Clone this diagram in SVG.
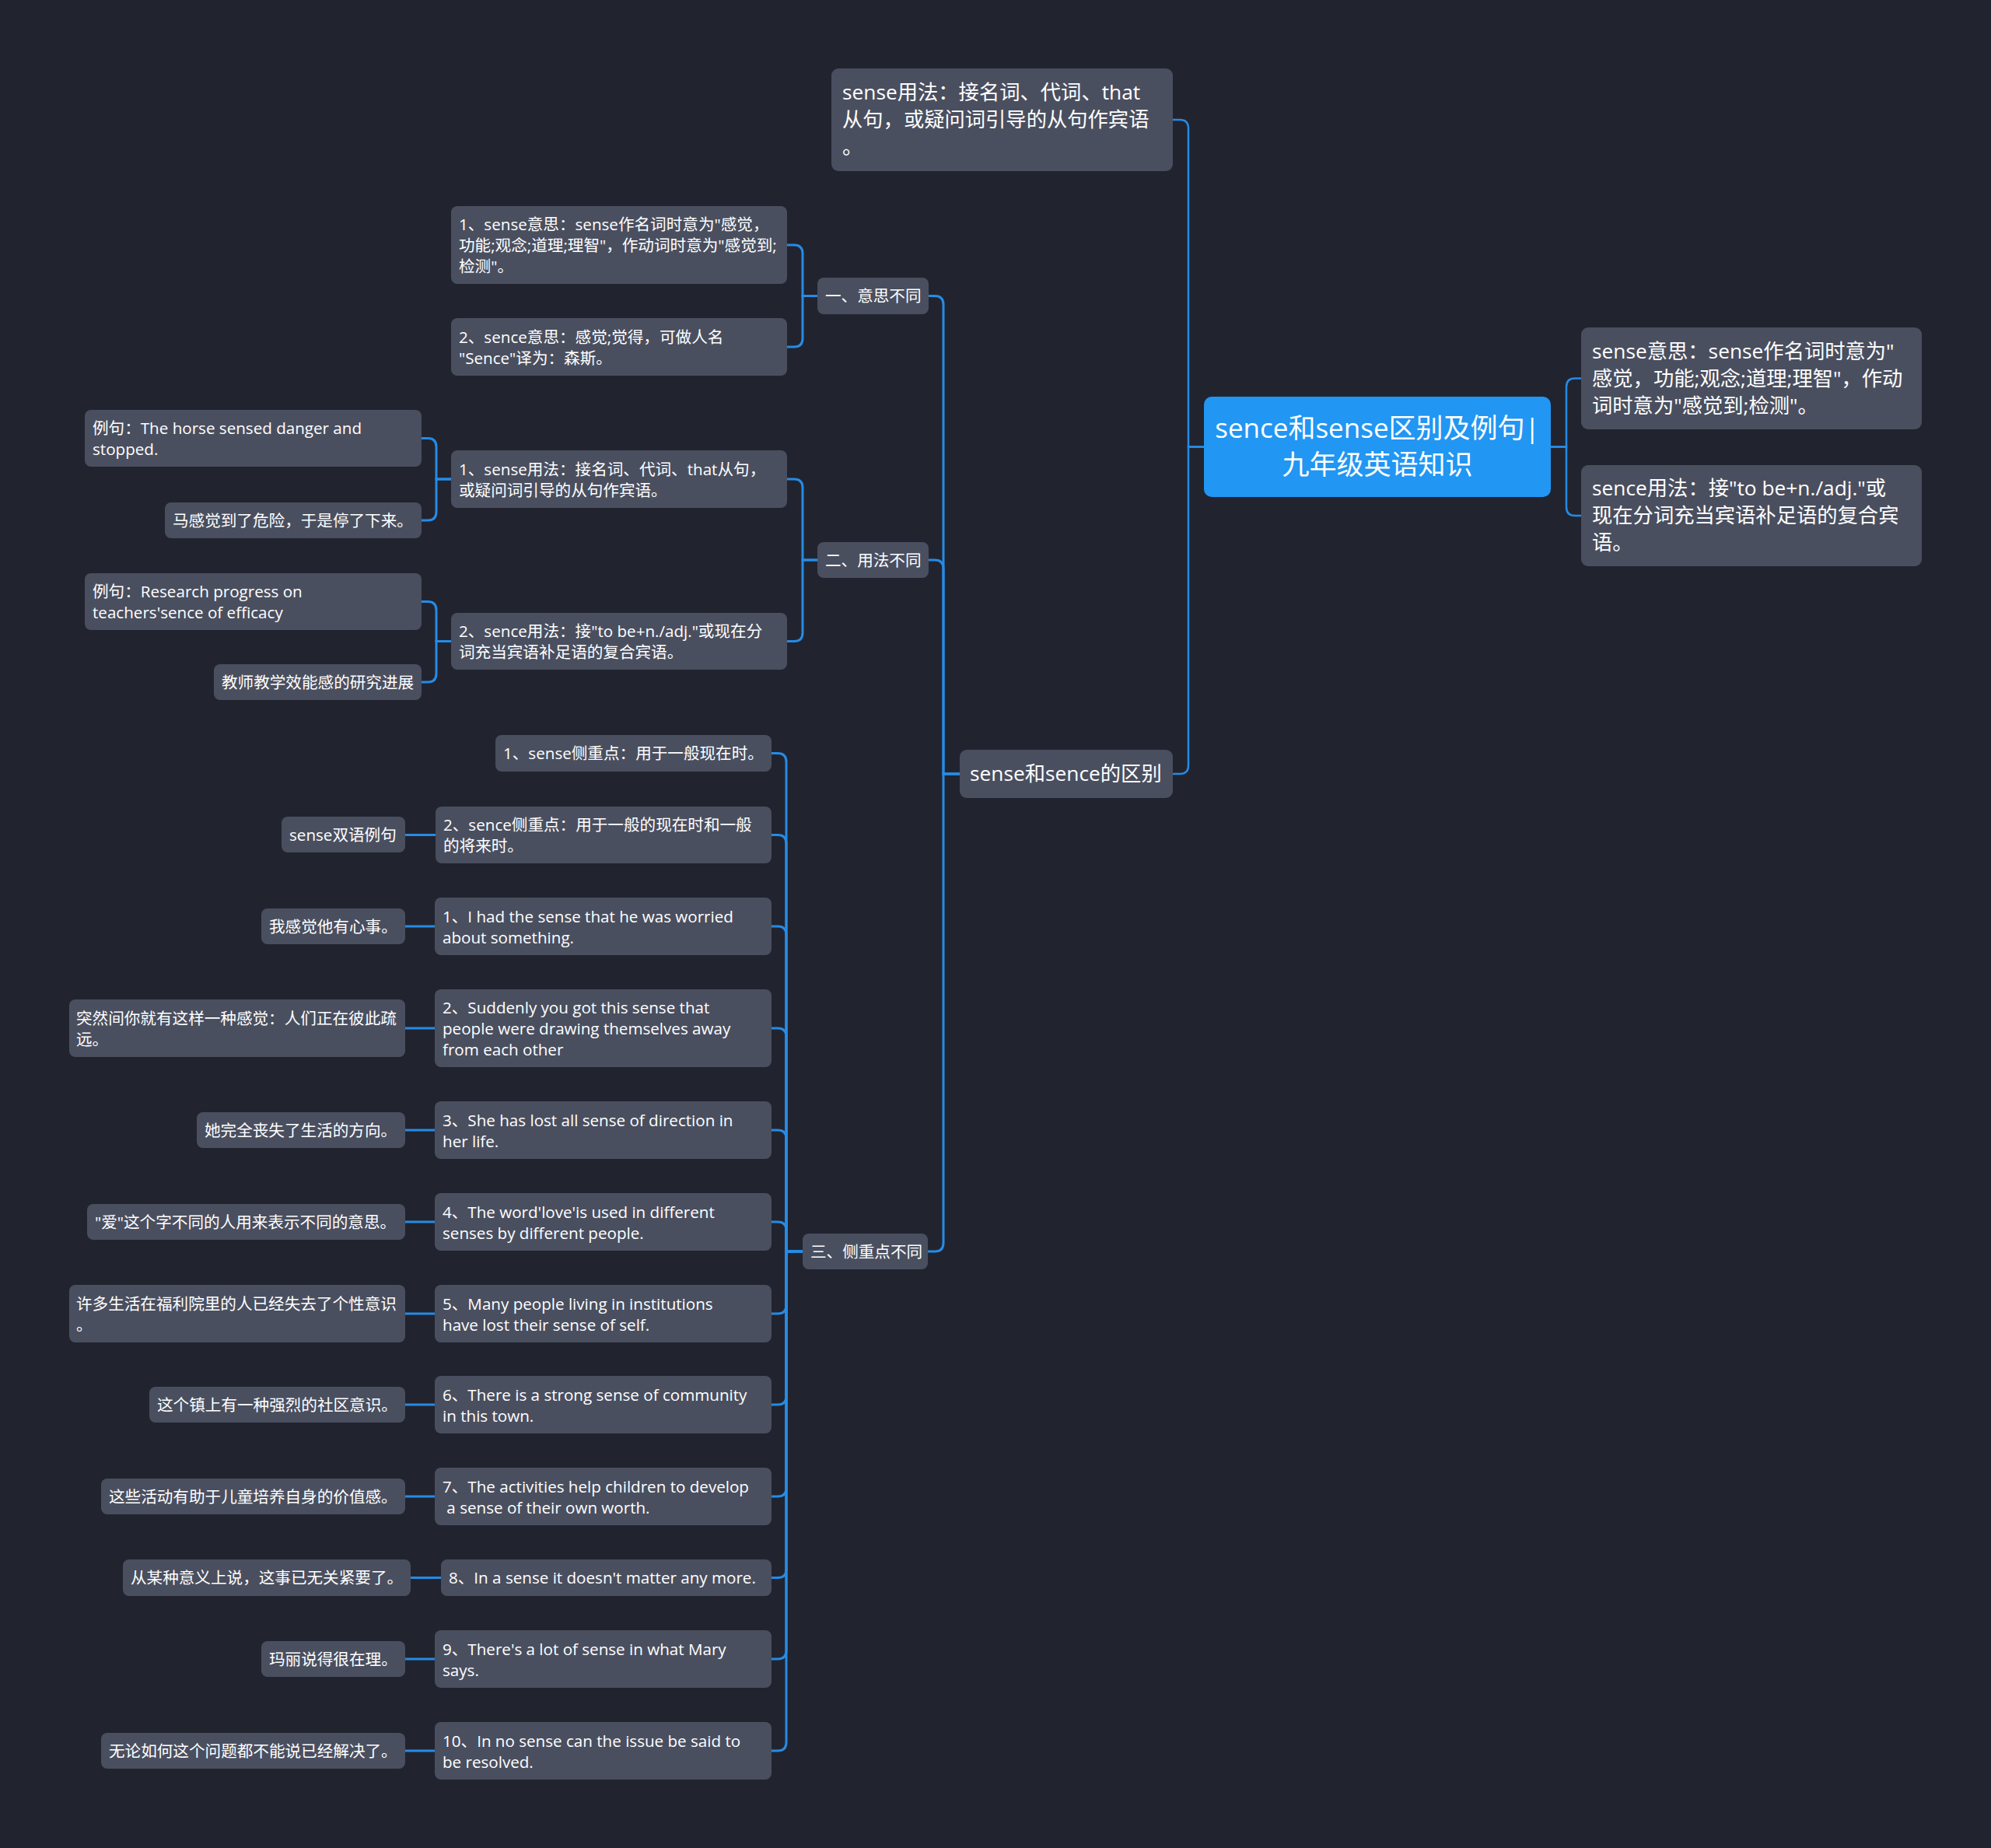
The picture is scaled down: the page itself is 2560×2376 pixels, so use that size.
<svg xmlns="http://www.w3.org/2000/svg" width="2560" height="2376" viewBox="0 0 2560 2376">
<style>
.bg{fill:#21242f}
.n{fill:#4a4f5f}
.r{fill:#2196f3}
.t{font-family:'Open Sans','Noto Sans CJK SC',sans-serif;fill:#ffffff;font-size:20.6px}
.t1{font-size:26.3px}
.tr{font-size:35px;text-anchor:middle}
.c{fill:none;stroke:#268be6;stroke-width:3;stroke-linecap:round}
.c0{stroke-width:2.5}
</style>
<rect class="bg" x="0" y="0" width="2560" height="2376"/>
<g id="connectors">
<path class="c c0" d="M1548 574.5 H1528 V165 Q1528 154 1517 154 H1508"/>
<path class="c c0" d="M1548 574.5 H1528 V984 Q1528 995 1517 995 H1508"/>
<path class="c c0" d="M1994 574.5 H2014 V497.5 Q2014 486.5 2025 486.5 H2033"/>
<path class="c c0" d="M1994 574.5 H2014 V652 Q2014 663 2025 663 H2033"/>
<path class="c" d="M1234 995 H1213 V391.5 Q1213 380.5 1202 380.5 H1194"/>
<path class="c" d="M1234 995 H1213 V731 Q1213 720 1202 720 H1194"/>
<path class="c" d="M1234 995 H1213 V1598 Q1213 1609 1202 1609 H1193"/>
<path class="c" d="M1051 380.5 H1032 V326 Q1032 315 1021 315 H1012"/>
<path class="c" d="M1051 380.5 H1032 V435 Q1032 446 1021 446 H1012"/>
<path class="c" d="M1051 720 H1032 V627 Q1032 616 1021 616 H1012"/>
<path class="c" d="M1051 720 H1032 V813.5 Q1032 824.5 1021 824.5 H1012"/>
<path class="c" d="M580 616 H561 V574.5 Q561 563.5 550 563.5 H542"/>
<path class="c" d="M580 616 H561 V658 Q561 669 550 669 H542"/>
<path class="c" d="M580 824.5 H561 V784.5 Q561 773.5 550 773.5 H542"/>
<path class="c" d="M580 824.5 H561 V866 Q561 877 550 877 H542"/>
<path class="c" d="M1032 1609 H1011 V979.5 Q1011 968.5 1000 968.5 H992"/>
<path class="c" d="M1032 1609 H1011 V1084.5 Q1011 1073.5 1000 1073.5 H992"/>
<path class="c" d="M1032 1609 H1011 V1202 Q1011 1191 1000 1191 H992"/>
<path class="c" d="M1032 1609 H1011 V1333 Q1011 1322 1000 1322 H992"/>
<path class="c" d="M1032 1609 H1011 V1464 Q1011 1453 1000 1453 H992"/>
<path class="c" d="M1032 1609 H1011 V1582 Q1011 1571 1000 1571 H992"/>
<path class="c" d="M1032 1609 H1011 V1678 Q1011 1689 1000 1689 H992"/>
<path class="c" d="M1032 1609 H1011 V1795 Q1011 1806 1000 1806 H992"/>
<path class="c" d="M1032 1609 H1011 V1913 Q1011 1924 1000 1924 H992"/>
<path class="c" d="M1032 1609 H1011 V2017.5 Q1011 2028.5 1000 2028.5 H992"/>
<path class="c" d="M1032 1609 H1011 V2122 Q1011 2133 1000 2133 H992"/>
<path class="c" d="M1032 1609 H1011 V2240 Q1011 2251 1000 2251 H992"/>
<path class="c" d="M560 1073.5 H521"/>
<path class="c" d="M559 1191 H521"/>
<path class="c" d="M559 1322 H521"/>
<path class="c" d="M559 1453 H521"/>
<path class="c" d="M559 1571 H521"/>
<path class="c" d="M559 1689 H521"/>
<path class="c" d="M559 1806 H521"/>
<path class="c" d="M559 1924 H521"/>
<path class="c" d="M567 2028.5 H528"/>
<path class="c" d="M559 2133 H521"/>
<path class="c" d="M559 2251 H521"/>
</g>

<g id="root">
<rect class="r" x="1548" y="510" width="446" height="129" rx="10"/>
<text class="t tr" x="1771" y="563">sence和sense区别及例句|</text>
<text class="t tr" x="1771" y="610">九年级英语知识</text>
</g>

<g id="n-top">
<rect class="n" x="1069" y="88" width="439" height="132" rx="9"/>
<text class="t t1" x="1083" y="128">sense用法：接名词、代词、that</text>
<text class="t t1" x="1083" y="163">从句，或疑问词引导的从句作宾语</text>
<text class="t t1" x="1083" y="198">。</text>
</g>

<g id="n-r1">
<rect class="n" x="2033" y="421" width="438" height="131" rx="9"/>
<text class="t t1" x="2047" y="460.5">sense意思：sense作名词时意为"</text>
<text class="t t1" x="2047" y="495.5">感觉，功能;观念;道理;理智"，作动</text>
<text class="t t1" x="2047" y="530.5">词时意为"感觉到;检测"。</text>
</g>

<g id="n-r2">
<rect class="n" x="2033" y="598" width="438" height="130" rx="9"/>
<text class="t t1" x="2047" y="637">sence用法：接"to be+n./adj."或</text>
<text class="t t1" x="2047" y="672">现在分词充当宾语补足语的复合宾</text>
<text class="t t1" x="2047" y="707">语。</text>
</g>

<g id="n-diff">
<rect class="n" x="1234" y="964" width="274" height="62" rx="9"/>
<text class="t t1" x="1247" y="1004">sense和sence的区别</text>
</g>

<g id="n-1">
<rect class="n" x="1051" y="357" width="143" height="47" rx="8"/>
<text class="t" x="1061" y="388">一、意思不同</text>
</g>
<g id="n-2">
<rect class="n" x="1051" y="697" width="143" height="46" rx="8"/>
<text class="t" x="1061" y="727.5">二、用法不同</text>
</g>
<g id="n-3">
<rect class="n" x="1032" y="1586" width="161" height="46" rx="8"/>
<text class="t" x="1042" y="1616.5">三、侧重点不同</text>
</g>

<g id="n-1-1">
<rect class="n" x="580" y="265" width="432" height="100" rx="8"/>
<text class="t" x="590" y="296">1、sense意思：sense作名词时意为"感觉，</text>
<text class="t" x="590" y="323">功能;观念;道理;理智"，作动词时意为"感觉到;</text>
<text class="t" x="590" y="350">检测"。</text>
</g>
<g id="n-1-2">
<rect class="n" x="580" y="409" width="432" height="74" rx="8"/>
<text class="t" x="590" y="440.5">2、sence意思：感觉;觉得，可做人名</text>
<text class="t" x="590" y="467.5">"Sence"译为：森斯。</text>
</g>

<g id="n-2-1">
<rect class="n" x="580" y="579" width="432" height="74" rx="8"/>
<text class="t" x="590" y="610.5">1、sense用法：接名词、代词、that从句，</text>
<text class="t" x="590" y="637.5">或疑问词引导的从句作宾语。</text>
</g>
<g id="n-2-2">
<rect class="n" x="580" y="788" width="432" height="73" rx="8"/>
<text class="t" x="590" y="819">2、sence用法：接"to be+n./adj."或现在分</text>
<text class="t" x="590" y="846">词充当宾语补足语的复合宾语。</text>
</g>

<g id="n-2-1-a">
<rect class="n" x="109" y="527" width="433" height="73" rx="8"/>
<text class="t" x="119" y="558">例句：The horse sensed danger and</text>
<text class="t" x="119" y="585">stopped.</text>
</g>
<g id="n-2-1-b">
<rect class="n" x="212" y="646" width="330" height="46" rx="8"/>
<text class="t" x="222" y="676.5">马感觉到了危险，于是停了下来。</text>
</g>
<g id="n-2-2-a">
<rect class="n" x="109" y="737" width="433" height="73" rx="8"/>
<text class="t" x="119" y="768">例句：Research progress on</text>
<text class="t" x="119" y="795">teachers'sence of efficacy</text>
</g>
<g id="n-2-2-b">
<rect class="n" x="275" y="854" width="267" height="46" rx="8"/>
<text class="t" x="285" y="884.5">教师教学效能感的研究进展</text>
</g>

<g id="n-3-1">
<rect class="n" x="637" y="945" width="355" height="47" rx="8"/>
<text class="t" x="647" y="976">1、sense侧重点：用于一般现在时。</text>
</g>
<g id="n-3-2">
<rect class="n" x="560" y="1037" width="432" height="73" rx="8"/>
<text class="t" x="570" y="1068">2、sence侧重点：用于一般的现在时和一般</text>
<text class="t" x="570" y="1095">的将来时。</text>
</g>
<g id="n-3-2-a">
<rect class="n" x="362" y="1050" width="159" height="46" rx="8"/>
<text class="t" x="372" y="1080.5">sense双语例句</text>
</g>

<g id="n-3-3">
<rect class="n" x="559" y="1154" width="433" height="74" rx="8"/>
<text class="t" x="569" y="1185.5">1、I had the sense that he was worried</text>
<text class="t" x="569" y="1212.5">about something.</text>
</g>
<g id="n-3-3-a">
<rect class="n" x="336" y="1168" width="185" height="46" rx="8"/>
<text class="t" x="346" y="1198.5">我感觉他有心事。</text>
</g>

<g id="n-3-4">
<rect class="n" x="559" y="1272" width="433" height="100" rx="8"/>
<text class="t" x="569" y="1303">2、Suddenly you got this sense that</text>
<text class="t" x="569" y="1330">people were drawing themselves away</text>
<text class="t" x="569" y="1357">from each other</text>
</g>
<g id="n-3-4-a">
<rect class="n" x="89" y="1285" width="432" height="74" rx="8"/>
<text class="t" x="98" y="1316.5">突然间你就有这样一种感觉：人们正在彼此疏</text>
<text class="t" x="98" y="1343.5">远。</text>
</g>

<g id="n-3-5">
<rect class="n" x="559" y="1416" width="433" height="74" rx="8"/>
<text class="t" x="569" y="1447.5">3、She has lost all sense of direction in</text>
<text class="t" x="569" y="1474.5">her life.</text>
</g>
<g id="n-3-5-a">
<rect class="n" x="253" y="1430" width="268" height="46" rx="8"/>
<text class="t" x="263" y="1460.5">她完全丧失了生活的方向。</text>
</g>

<g id="n-3-6">
<rect class="n" x="559" y="1534" width="433" height="74" rx="8"/>
<text class="t" x="569" y="1565.5">4、The word'love'is used in different</text>
<text class="t" x="569" y="1592.5">senses by different people.</text>
</g>
<g id="n-3-6-a">
<rect class="n" x="112" y="1548" width="409" height="46" rx="8"/>
<text class="t" x="122" y="1578.5">"爱"这个字不同的人用来表示不同的意思。</text>
</g>

<g id="n-3-7">
<rect class="n" x="559" y="1652" width="433" height="74" rx="8"/>
<text class="t" x="569" y="1683.5">5、Many people living in institutions</text>
<text class="t" x="569" y="1710.5">have lost their sense of self.</text>
</g>
<g id="n-3-7-a">
<rect class="n" x="89" y="1652" width="432" height="74" rx="8"/>
<text class="t" x="98" y="1683.5">许多生活在福利院里的人已经失去了个性意识</text>
<text class="t" x="98" y="1710.5">。</text>
</g>

<g id="n-3-8">
<rect class="n" x="559" y="1769" width="433" height="74" rx="8"/>
<text class="t" x="569" y="1800.5">6、There is a strong sense of community</text>
<text class="t" x="569" y="1827.5">in this town.</text>
</g>
<g id="n-3-8-a">
<rect class="n" x="192" y="1783" width="329" height="46" rx="8"/>
<text class="t" x="202" y="1813.5">这个镇上有一种强烈的社区意识。</text>
</g>

<g id="n-3-9">
<rect class="n" x="559" y="1887" width="433" height="74" rx="8"/>
<text class="t" x="569" y="1918.5">7、The activities help children to develop</text>
<text class="t" x="569" y="1945.5" xml:space="preserve" style="white-space:pre"> a sense of their own worth.</text>
</g>
<g id="n-3-9-a">
<rect class="n" x="130" y="1901" width="391" height="46" rx="8"/>
<text class="t" x="140" y="1931.5">这些活动有助于儿童培养自身的价值感。</text>
</g>

<g id="n-3-10">
<rect class="n" x="567" y="2005" width="425" height="47" rx="8"/>
<text class="t" x="577" y="2036">8、In a sense it doesn't matter any more.</text>
</g>
<g id="n-3-10-a">
<rect class="n" x="158" y="2005" width="370" height="47" rx="8"/>
<text class="t" x="168" y="2036">从某种意义上说，这事已无关紧要了。</text>
</g>

<g id="n-3-11">
<rect class="n" x="559" y="2096" width="433" height="74" rx="8"/>
<text class="t" x="569" y="2127.5">9、There's a lot of sense in what Mary</text>
<text class="t" x="569" y="2154.5">says.</text>
</g>
<g id="n-3-11-a">
<rect class="n" x="336" y="2110" width="185" height="46" rx="8"/>
<text class="t" x="346" y="2140.5">玛丽说得很在理。</text>
</g>

<g id="n-3-12">
<rect class="n" x="559" y="2214" width="433" height="74" rx="8"/>
<text class="t" x="569" y="2245.5">10、In no sense can the issue be said to</text>
<text class="t" x="569" y="2272.5">be resolved.</text>
</g>
<g id="n-3-12-a">
<rect class="n" x="130" y="2228" width="391" height="46" rx="8"/>
<text class="t" x="140" y="2258.5">无论如何这个问题都不能说已经解决了。</text>
</g>
</svg>
